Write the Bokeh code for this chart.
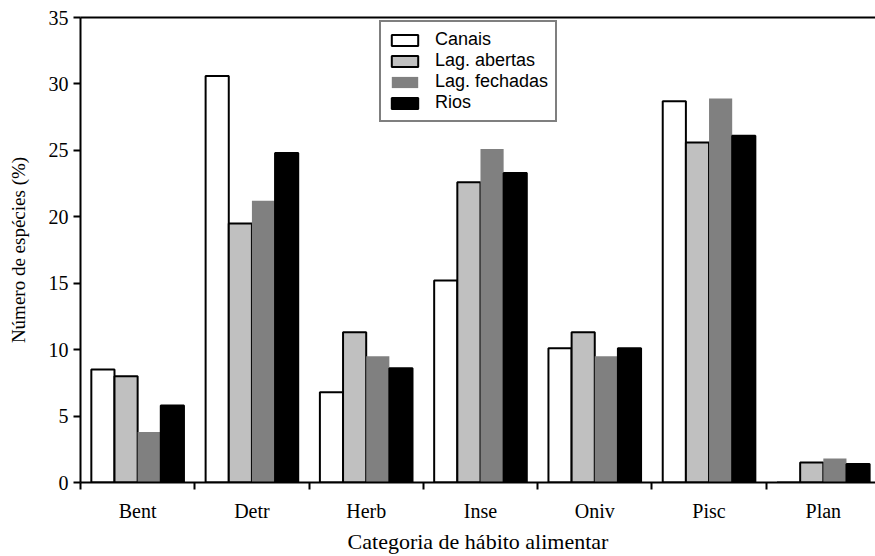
from bokeh.plotting import figure
from bokeh.models import ColumnDataSource, FixedTicker, LinearAxis, Legend, LegendItem, Range1d
from bokeh.transform import dodge
from bokeh.embed import file_html
from bokeh.resources import INLINE

# ---- data ----
categories = ["Bent", "Detr", "Herb", "Inse", "Oniv", "Pisc", "Plan"]
series_names = ["Canais", "Lag. abertas", "Lag. fechadas", "Rios"]
canais = [8.5, 30.6, 6.8, 15.2, 10.1, 28.7, 0.0]
lag_abertas = [8.0, 19.5, 11.3, 22.6, 11.3, 25.6, 1.5]
lag_fechadas = [3.8, 21.2, 9.5, 25.1, 9.5, 28.9, 1.8]
rios = [5.8, 24.8, 8.6, 23.3, 10.1, 26.1, 1.4]
y_ticks = [0, 5, 10, 15, 20, 25, 30, 35]
x_title = "Categoria de hábito alimentar"
y_title = "Número de espécies (%)"

# ---- styles ----
fills = ["white", "#c0c0c0", "#808080", "black"]
lines = ["black", "black", None, "black"]
bar_w = 0.2026
n = len(categories)
centers = list(range(1, n + 1))
px_per_cat = 114.28

p = figure(width=875, height=556,
           x_range=Range1d(0.5, 0.5 + 795 / px_per_cat), y_range=Range1d(0, 35),
           output_backend="svg", toolbar_location=None,
           min_border_left=80, min_border_right=0, min_border_top=17, min_border_bottom=74)
p.xgrid.visible = False
p.ygrid.visible = False
p.outline_line_color = None
p.background_fill_color = "white"
p.border_fill_color = "white"

src = ColumnDataSource(dict(x=centers, cat=categories, s0=canais, s1=lag_abertas,
                            s2=lag_fechadas, s3=rios))

renderers = []
for j, name in enumerate(series_names):
    off = (j - 1.5) * bar_w
    r = p.vbar(x=dodge("x", off, range=p.x_range), top="s%d" % j, bottom=0, width=bar_w,
               source=src, fill_color=fills[j], line_color=lines[j], line_width=2)
    renderers.append(r)

# x axis
xa = p.xaxis[0]
xa.ticker = FixedTicker(ticks=centers, minor_ticks=[c - 0.5 for c in centers] + [n + 0.5])
xa.major_label_overrides = {c: lab for c, lab in zip(centers, categories)}
xa.major_tick_out = 0
xa.major_tick_in = 0
xa.minor_tick_out = 7
xa.minor_tick_in = 0
xa.minor_tick_line_width = 2
xa.minor_tick_line_color = "black"
xa.axis_line_width = 2
xa.axis_line_color = "black"
xa.major_label_standoff = 10
xa.major_label_text_font = "Liberation Serif"
xa.major_label_text_font_size = "20px"
xa.major_label_text_color = "black"
xa.axis_label = x_title
xa.axis_label_text_font = "Liberation Serif"
xa.axis_label_text_font_size = "22px"
xa.axis_label_text_font_style = "normal"
xa.axis_label_text_color = "black"
xa.axis_label_standoff = 4

# y axis
ya = p.yaxis[0]
ya.ticker = FixedTicker(ticks=y_ticks)
ya.major_tick_out = 7
ya.major_tick_in = 0
ya.major_tick_line_width = 2
ya.major_tick_line_color = "black"
ya.minor_tick_line_color = None
ya.axis_line_width = 2
ya.axis_line_color = "black"
ya.major_label_standoff = 5
ya.major_label_text_font = "Liberation Serif"
ya.major_label_text_font_size = "20px"
ya.major_label_text_color = "black"
ya.axis_label = y_title
ya.axis_label_text_font = "Liberation Serif"
ya.axis_label_text_font_size = "19px"
ya.axis_label_text_font_style = "normal"
ya.axis_label_text_color = "black"
ya.axis_label_standoff = 17

# top frame line
top = LinearAxis(ticker=FixedTicker(ticks=[]), axis_line_width=2, axis_line_color="black",
                 major_label_standoff=0, major_tick_out=0, major_tick_in=0,
                 minor_tick_line_color=None, major_label_text_font_size="0px")
p.add_layout(top, "above")

legend = Legend(items=[LegendItem(label=nm, renderers=[r]) for nm, r in zip(series_names, renderers)],
                location=(299, 360))
legend.border_line_color = "black"
legend.border_line_width = 2
legend.background_fill_color = "white"
legend.background_fill_alpha = 1
legend.label_text_font = "Liberation Sans"
legend.label_text_font_size = "18px"
legend.label_text_color = "black"
legend.glyph_width = 33
legend.glyph_height = 14
legend.label_standoff = 14
legend.label_height = 19
legend.padding = 7
legend.spacing = 0
legend.margin = 0
p.add_layout(legend)

open("out.html", "w").write(file_html(p, INLINE))
